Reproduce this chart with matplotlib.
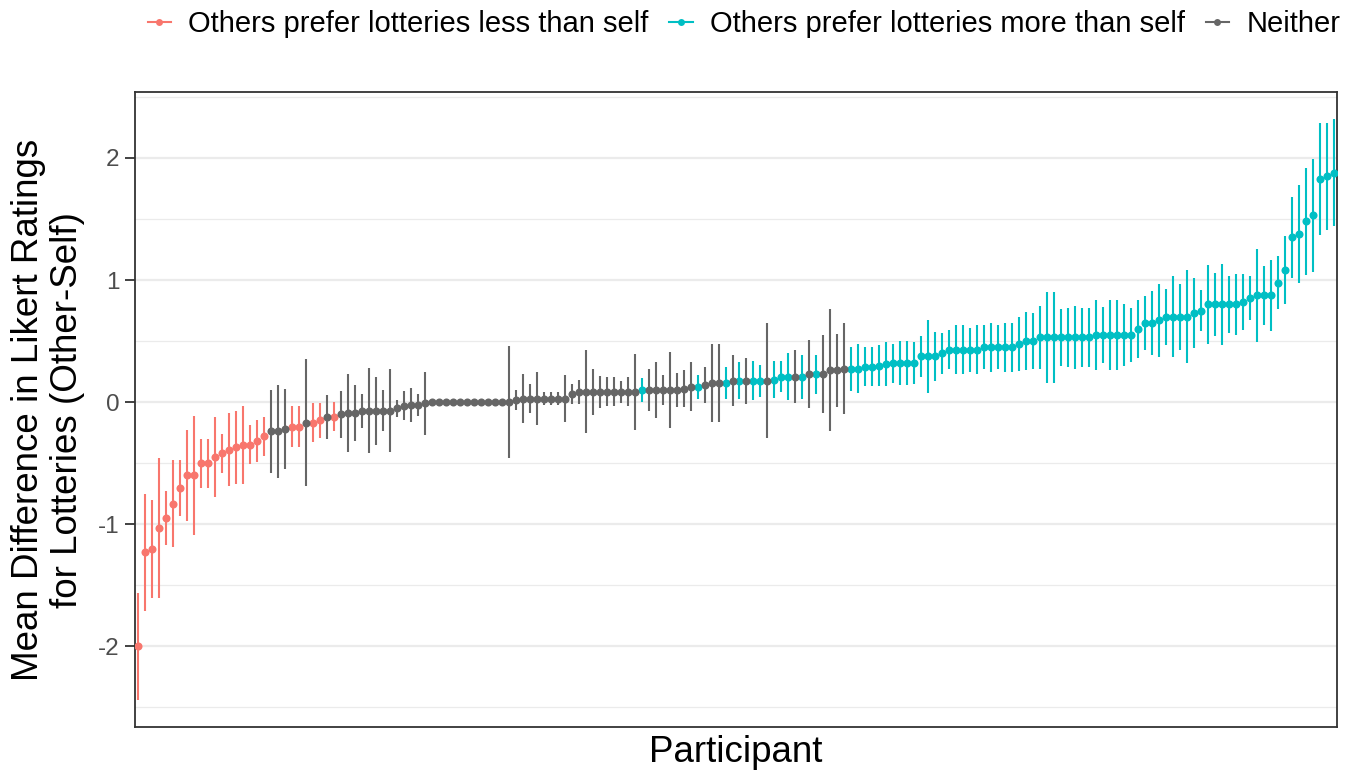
import numpy as np
import matplotlib
matplotlib.use("Agg")
import matplotlib.pyplot as plt
from matplotlib.lines import Line2D

plt.rcParams['font.family'] = ['Liberation Sans', 'DejaVu Sans']

# mean difference (other - self) per participant, sorted
means = [
    -2.00, -1.23, -1.20, -1.03, -0.95, -0.83, -0.70, -0.60, -0.60, -0.50,
    -0.50, -0.45, -0.42, -0.39, -0.37, -0.35, -0.35, -0.32, -0.28, -0.24,
    -0.24, -0.22, -0.20, -0.20, -0.17, -0.17, -0.15, -0.12, -0.12, -0.10,
    -0.09, -0.09, -0.07, -0.07, -0.07, -0.07, -0.07, -0.05, -0.03, -0.02,
    -0.02, -0.01, 0.00, 0.00, 0.00, 0.00, 0.00, 0.00, 0.00, 0.00,
    0.00, 0.00, 0.00, 0.00, 0.02, 0.03, 0.03, 0.03, 0.03, 0.03,
    0.03, 0.03, 0.065, 0.085, 0.085, 0.085, 0.085, 0.085, 0.085, 0.085,
    0.085, 0.085, 0.10, 0.10, 0.10, 0.10, 0.10, 0.10, 0.11, 0.125,
    0.125, 0.14, 0.16, 0.16, 0.16, 0.175, 0.175, 0.175, 0.175, 0.175,
    0.175, 0.185, 0.21, 0.21, 0.21, 0.21, 0.23, 0.23, 0.23, 0.26,
    0.26, 0.275, 0.275, 0.275, 0.29, 0.29, 0.30, 0.31, 0.32, 0.32,
    0.32, 0.32, 0.375, 0.375, 0.375, 0.40, 0.43, 0.43, 0.43, 0.43,
    0.43, 0.45, 0.45, 0.45, 0.45, 0.45, 0.475, 0.50, 0.50, 0.53,
    0.53, 0.53, 0.53, 0.53, 0.53, 0.53, 0.53, 0.55, 0.55, 0.55,
    0.55, 0.55, 0.55, 0.60, 0.65, 0.65, 0.67, 0.70, 0.70, 0.70,
    0.70, 0.73, 0.75, 0.80, 0.80, 0.80, 0.80, 0.80, 0.82, 0.85,
    0.875, 0.875, 0.875, 0.98, 1.08, 1.35, 1.38, 1.48, 1.53, 1.83,
    1.85, 1.88,
]

# half width of each interval
half_ci = [
    0.44, 0.48, 0.40, 0.57, 0.22, 0.36, 0.23, 0.37, 0.49, 0.20,
    0.20, 0.33, 0.16, 0.30, 0.30, 0.32, 0.16, 0.17, 0.16, 0.34,
    0.38, 0.33, 0.17, 0.17, 0.52, 0.16, 0.14, 0.18, 0.12, 0.19,
    0.32, 0.23, 0.14, 0.35, 0.28, 0.17, 0.34, 0.07, 0.12, 0.14,
    0.09, 0.26, 0.00, 0.00, 0.00, 0.00, 0.00, 0.00, 0.00, 0.00,
    0.00, 0.00, 0.00, 0.46, 0.08, 0.20, 0.12, 0.22, 0.05, 0.05,
    0.05, 0.19, 0.08, 0.10, 0.34, 0.19, 0.13, 0.12, 0.12, 0.09,
    0.12, 0.31, 0.10, 0.17, 0.23, 0.12, 0.31, 0.14, 0.15, 0.20,
    0.10, 0.15, 0.32, 0.32, 0.13, 0.21, 0.15, 0.19, 0.16, 0.13,
    0.47, 0.15, 0.13, 0.19, 0.22, 0.18, 0.28, 0.16, 0.32, 0.50,
    0.30, 0.37, 0.18, 0.20, 0.16, 0.16, 0.17, 0.18, 0.16, 0.18,
    0.18, 0.17, 0.17, 0.30, 0.20, 0.17, 0.16, 0.20, 0.20, 0.18,
    0.20, 0.18, 0.20, 0.18, 0.20, 0.20, 0.22, 0.24, 0.23, 0.26,
    0.37, 0.37, 0.23, 0.24, 0.26, 0.24, 0.24, 0.29, 0.23, 0.29,
    0.29, 0.25, 0.22, 0.24, 0.22, 0.26, 0.30, 0.23, 0.33, 0.27,
    0.38, 0.29, 0.17, 0.32, 0.26, 0.33, 0.23, 0.25, 0.23, 0.18,
    0.38, 0.24, 0.29, 0.22, 0.28, 0.33, 0.40, 0.44, 0.46, 0.46,
    0.44, 0.44,
]

# L = less than self, M = more than self, N = neither
groups = list(
    "LLLLLLLLLL"
    "LLLLLLLLLN"
    "NNLLNLLNLN"
    "NNNNNNNNNN"
    "NNNNNNNNNN"
    "NNNNNNNNNN"
    "NNNNNNNNNN"
    "NNMNNNNNNN"
    "MNNNMNMNMM"
    "NMMMNMNMNN"
    "NNMMMMMMMM"
    "MMMMMMMMMM"
    "MMMMMMMMMM"
    "MMMMMMMMMM"
    "MMMMMMMMMM"
    "MMMMMMMMMM"
    "MMMMMMMMMM"
    "MM"
)

labels = {
    "L": "Others prefer lotteries less than self",
    "M": "Others prefer lotteries more than self",
    "N": "Neither",
}
colors = {"L": "#F8766D", "M": "#00BFC4", "N": "#666666"}

means = np.array(means)
half_ci = np.array(half_ci)
groups = np.array(groups)
x = np.arange(1, len(means) + 1)

fig = plt.figure(figsize=(13.67, 7.74), dpi=100)
ax = fig.add_axes([135 / 1367, 1 - 727 / 774, (1337 - 135) / 1367, (727 - 92) / 774])

for g in ["L", "M", "N"]:
    m = groups == g
    ax.vlines(x[m], means[m] - half_ci[m], means[m] + half_ci[m],
              color=colors[g], lw=1.5, zorder=3)
    ax.plot(x[m], means[m], 'o', color=colors[g], ms=5.8, mec='none', zorder=4)

ax.set_xlim(0.5, len(means) + 0.5)
ax.set_ylim(-2.66, 2.54)
ax.set_yticks([-2, -1, 0, 1, 2])
ax.set_yticklabels(["-2", "-1", "0", "1", "2"])
ax.set_yticks(np.arange(-2.5, 2.6, 1.0), minor=True)
ax.set_xticks([])
ax.tick_params(axis='y', which='major', labelsize=17.5, labelcolor='#4D4D4D',
               color='#333333', length=7, width=1.3, pad=4)
ax.tick_params(axis='y', which='minor', length=0)
ax.grid(axis='y', which='major', color='#EBEBEB', lw=1.6, zorder=0)
ax.grid(axis='y', which='minor', color='#EBEBEB', lw=0.9, zorder=0)
ax.set_axisbelow(True)
for s in ax.spines.values():
    s.set_color('#333333')
    s.set_linewidth(1.3)

ax.set_xlabel("Participant", fontsize=26.5, labelpad=6)
fig.text(48 / 1367, 1 - 410 / 774,
         "Mean Difference in Likert Ratings\nfor Lotteries (Other-Self)",
         rotation=90, ha='center', va='center', fontsize=26.5,
         multialignment='center', linespacing=1.15)

handles = [Line2D([0], [0], color=colors[g], lw=1.5, marker='o', ms=5, mec='none')
           for g in ["L", "M", "N"]]
fig.legend(handles, [labels[g] for g in ["L", "M", "N"]],
           loc='center', bbox_to_anchor=(744 / 1367, 1 - 24 / 774), ncol=3,
           frameon=False, fontsize=21, handlelength=0.8, handletextpad=0.6,
           columnspacing=0.7)

fig.savefig("out.png", dpi=100)
